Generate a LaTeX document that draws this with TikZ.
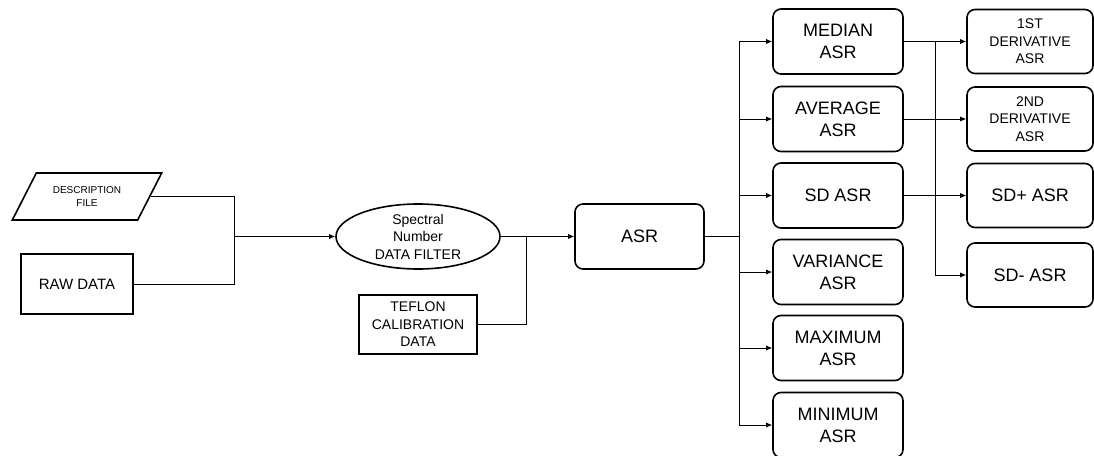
\documentclass[tikz,border=0pt]{standalone}
\usepackage{fontspec}
\setmainfont{Liberation Sans}
\usetikzlibrary{shapes.geometric,arrows.meta}
\begin{document}
\begin{tikzpicture}[x=1pt,y=-1pt,
  box/.style={draw,line width=1.6pt,align=center,inner sep=0pt},
  rbox/.style={box,rounded corners=8pt},
  conn/.style={line width=0.8pt},
  arr/.style={conn,-{Latex[length=6pt,width=5pt]}},
  big/.style={font=\fontsize{18}{22}\selectfont},
  mid/.style={font=\fontsize{14}{17.5}\selectfont},
]
\useasboundingbox (0,0) rectangle (1094,455);

\node[box,trapezium,trapezium left angle=51,trapezium right angle=129,trapezium stretches=true,
  minimum width=150,minimum height=47,font=\fontsize{10}{13}\selectfont] (desc) at (87,196.5) {DESCRIPTION\\FILE};
\node[box,minimum width=112,minimum height=60,font=\fontsize{15}{18}\selectfont] (raw) at (77,284) {RAW DATA};
\node[box,ellipse,minimum width=164,minimum height=65,mid] (filter) at (418,236.5) {Spectral\\Number\\DATA FILTER};
\node[box,minimum width=118,minimum height=59,mid] (teflon) at (418,324.5) {TEFLON\\CALIBRATION\\DATA};
\node[rbox,minimum width=129,minimum height=65,big] (asr) at (639.5,236.5) {ASR};

\foreach \n/\y/\t in {median/41.5/MEDIAN\\ASR, average/119/AVERAGE\\ASR, sd/195.5/SD ASR,
  variance/272/VARIANCE\\ASR, maximum/348/MAXIMUM\\ASR, minimum/425/MINIMUM\\ASR}
  \node[rbox,minimum width=130,minimum height=65,big] (\n) at (838,\y) {\t};

\node[rbox,minimum width=126,minimum height=64,mid] (d1) at (1030,41.5) {1ST\\DERIVATIVE\\ASR};
\node[rbox,minimum width=126,minimum height=64,mid] (d2) at (1030,119) {2ND\\DERIVATIVE\\ASR};
\node[rbox,minimum width=126,minimum height=64,big] (sdp) at (1030,195.5) {SD+ ASR};
\node[rbox,minimum width=126,minimum height=64,big] (sdm) at (1030,275) {SD- ASR};

\coordinate (j1) at (234,236.5);
\coordinate (j2) at (526,236.5);
\coordinate (j3) at (739,236.5);
\coordinate (j4) at (935,41.5);

\draw[conn] (desc.east) -| (j1);
\draw[conn] (raw.east) -| (j1);
\draw[arr] (j1) -- (filter.west);
\draw[conn] (filter.east) -- (j2);
\draw[conn] (teflon.east) -| (j2);
\draw[arr] (j2) -- (asr.west);
\draw[conn] (asr.east) -- (j3);
\foreach \n in {median,average,sd,variance,maximum,minimum}
  \draw[arr] (j3) |- (\n.west);
\draw[arr] (median.east) -- (d1.west);
\draw[arr] (average.east) -- (d2.west);
\draw[arr] (sd.east) -- (sdp.west);
\draw[arr] (j4) |- (sdm.west);
\end{tikzpicture}
\end{document}
